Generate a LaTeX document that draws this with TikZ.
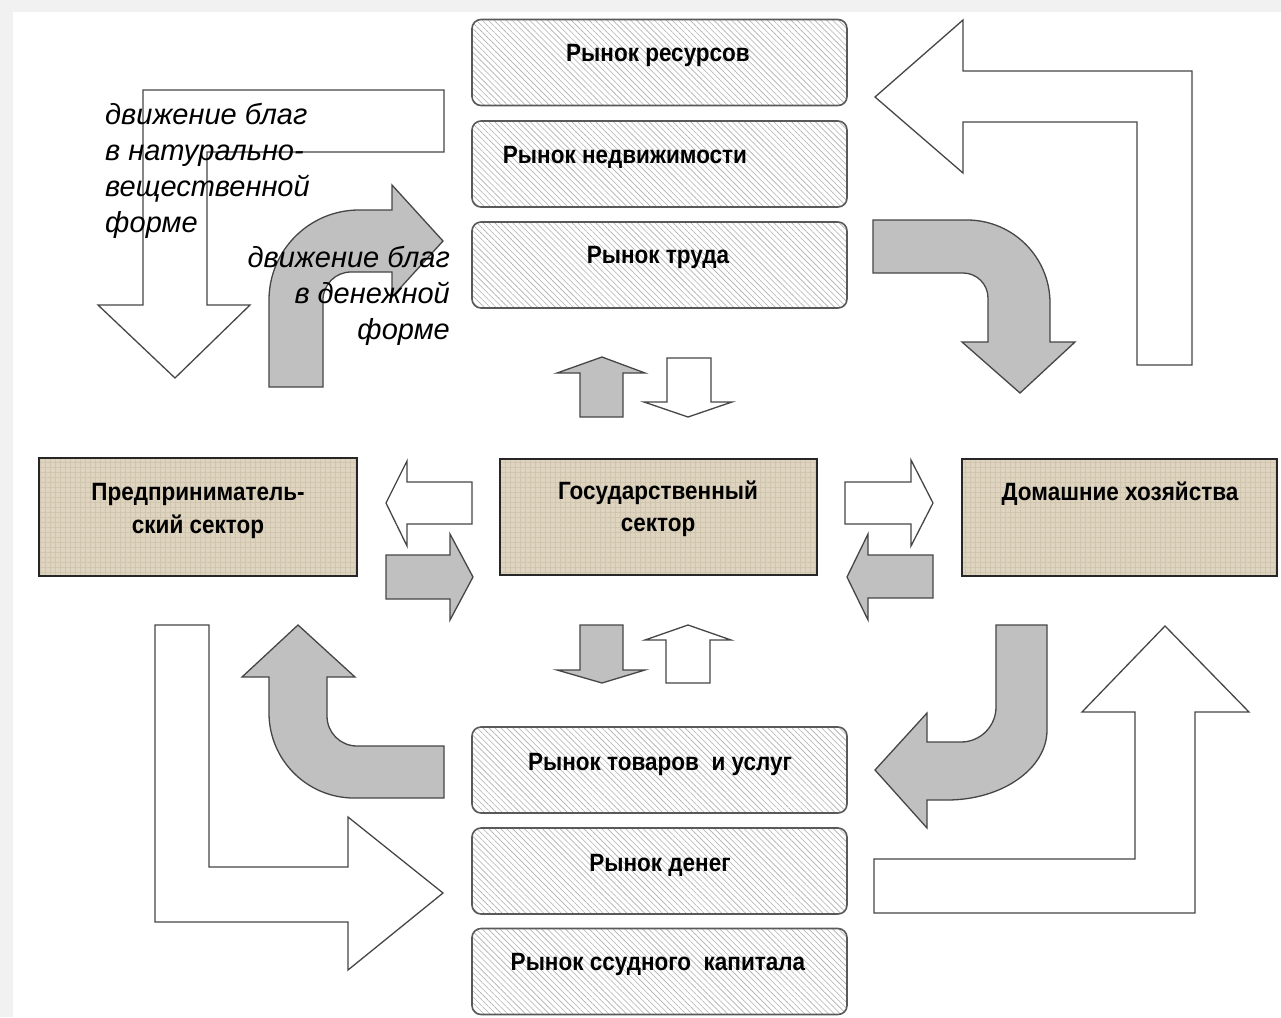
\documentclass[tikz,border=0pt]{standalone}
\usepackage{fontspec}
\setmainfont{Liberation Sans}
\newfontfamily\boxfont{Liberation Sans}[FakeStretch=0.9]
\usetikzlibrary{patterns.meta}
\definecolor{grayfill}{RGB}{192,192,192}
\definecolor{tanfill}{RGB}{222,212,191}
\definecolor{tangrid}{RGB}{208,197,175}
\definecolor{hatch}{RGB}{175,175,175}
\definecolor{framegray}{RGB}{241,241,241}
\definecolor{edge}{RGB}{70,70,70}
\begin{document}
\begin{tikzpicture}[x=1pt,y=-1pt,
  arr/.style={draw=edge, line width=1.3pt, line join=miter},
  wfill/.style={arr, fill=white},
  gfill/.style={arr, fill=grayfill},
  mkt/.style={draw=black!65, line width=1.6pt, rounded corners=9pt,
    preaction={fill=white},
    preaction={pattern={Lines[angle=-45, distance=4.2pt, line width=0.6pt]}, pattern color=hatch},
    minimum width=375pt, minimum height=86pt, inner sep=0pt},
  sect/.style={draw=black!85, line width=1.3pt,
    preaction={fill=tanfill},
    preaction={pattern={Hatch[angle=0, distance=5pt, line width=0.5pt]}, pattern color=tangrid},
    inner sep=0pt},
  mtxt/.style={font=\boxfont\bfseries\fontsize{25}{30}\selectfont, anchor=base, inner sep=0pt},
  itxt/.style={font=\itshape\fontsize{29}{36}\selectfont, inner sep=0pt}
]
\useasboundingbox (0,0) rectangle (1281,1017);
\fill[framegray] (0,0) rectangle (1281,1017);
\fill[white] (13,12) rectangle (1281,1017);

% ---------- market boxes ----------
\node[mkt] (m1) at (659.5,62.5) {};
\node[mkt] (m2) at (659.5,164) {};
\node[mkt] (m3) at (659.5,265) {};
\node[mkt] (m4) at (659.5,770) {};
\node[mkt] (m5) at (659.5,871) {};
\node[mkt] (m6) at (659.5,971.5) {};
\node[mtxt] (m1t) at (658,61) {Рынок ресурсов};
\node[mtxt] (m2t) at (625,163) {Рынок недвижимости};
\node[mtxt] (m3t) at (658,263) {Рынок труда};
\node[mtxt] (m4t) at (660,770) {Рынок товаров \ и услуг};
\node[mtxt] (m5t) at (660,871) {Рынок денег};
\node[mtxt] (m6t) at (658,970) {Рынок ссудного \ капитала};

% ---------- sector boxes ----------
\node[sect, minimum width=318pt, minimum height=118pt] (firms) at (198,517) {};
\node[sect, minimum width=317pt, minimum height=116pt] (state) at (658.5,517) {};
\node[sect, minimum width=315pt, minimum height=117pt] (house) at (1119.5,517.5) {};
\node[mtxt] (firmsA) at (198,500) {Предприниматель-};
\node[mtxt] (firmsB) at (198,533) {ский сектор};
\node[mtxt] (stateA) at (658,499) {Государственный};
\node[mtxt] (stateB) at (658,531) {сектор};
\node[mtxt] (houseA) at (1120,500) {Домашние хозяйства};

% ---------- large white L arrows ----------
\draw[wfill] (444,90) -- (444,152) -- (207,152) -- (207,305) -- (250,305) -- (175,378)
  -- (98,305) -- (143,305) -- (143,90) -- cycle;
\draw[wfill] (875,97) -- (963,20) -- (963,71) -- (1192,71) -- (1192,365) -- (1137,365)
  -- (1137,122) -- (963,122) -- (963,173) -- cycle;
\draw[wfill] (155,625) -- (209,625) -- (209,867) -- (348,867) -- (348,817) -- (443,893)
  -- (348,970) -- (348,922) -- (155,922) -- cycle;
\draw[wfill] (874,859) -- (1135,859) -- (1135,712) -- (1082,712) -- (1165,626) -- (1249,712)
  -- (1195,712) -- (1195,913) -- (874,913) -- cycle;

% ---------- curved gray arrows ----------
\draw[gfill] (269,387) -- (269,300) .. controls (269,250.3) and (309.3,210) .. (359,210)
  -- (392,210) -- (392,185) -- (443,241) -- (392,297) -- (392,272) -- (351,272)
  .. controls (335.5,272) and (323,284.5) .. (323,300) -- (323,387) -- cycle;
\draw[gfill] (873,220) -- (967,220) .. controls (1012.8,220) and (1050,257.2) .. (1050,303)
  -- (1050,342) -- (1075,342) -- (1020,393) -- (962,342) -- (988,342) -- (988,298)
  .. controls (988,284.2) and (976.8,273) .. (963,273) -- (873,273) -- cycle;
\draw[gfill] (298,625) -- (355,677) -- (327,677) -- (327,716)
  .. controls (327,732.6) and (340.4,746) .. (357,746) -- (444,746) -- (444,798) -- (354,798)
  .. controls (307.1,798) and (269,759.9) .. (269,713) -- (269,677) -- (242,677) -- cycle;
\draw[gfill] (996,625) -- (1047,625) -- (1047,730)
  .. controls (1047,768.6) and (1002.2,800) .. (947,800) -- (927,800) -- (927,828)
  -- (875,770) -- (927,713) -- (927,742) -- (961,742)
  .. controls (980.3,742) and (996,726.3) .. (996,707) -- cycle;

% ---------- small arrows (vertical) ----------
\draw[gfill] (580,417) -- (580,373) -- (557,373) -- (602,357) -- (645,373) -- (623,373) -- (623,417) -- cycle;
\draw[wfill] (667,358) -- (711,358) -- (711,402) -- (732,402) -- (688,417) -- (644,402) -- (667,402) -- cycle;
\draw[gfill] (580,625) -- (623,625) -- (623,670) -- (645,670) -- (602,683) -- (557,670) -- (580,670) -- cycle;
\draw[wfill] (666,683) -- (666,640) -- (645,640) -- (688,625) -- (731,640) -- (710,640) -- (710,683) -- cycle;

% ---------- small arrows (horizontal) ----------
\draw[wfill] (472,482) -- (472,524) -- (407,524) -- (407,546) -- (386,503) -- (407,461) -- (407,482) -- cycle;
\draw[gfill] (386,555) -- (450,555) -- (450,534) -- (473,577) -- (450,620) -- (450,599) -- (386,599) -- cycle;
\draw[wfill] (845,482) -- (911,482) -- (911,460) -- (933,503) -- (911,546) -- (911,524) -- (845,524) -- cycle;
\draw[gfill] (933,555) -- (933,598) -- (868,598) -- (868,620) -- (847,577) -- (868,534) -- (868,555) -- cycle;

% ---------- italic labels ----------
\node[itxt, anchor=base west] (la) at (105,124) {движение благ};
\node[itxt, anchor=base west] (lb) at (105,160) {в натурально-};
\node[itxt, anchor=base west] (lc) at (105,196) {вещественной};
\node[itxt, anchor=base west] (ld) at (105,232) {форме};
\node[itxt, anchor=base east] (ra) at (450,267) {движение благ};
\node[itxt, anchor=base east] (rb) at (450,303) {в денежной};
\node[itxt, anchor=base east] (rc) at (450,339) {форме};
\end{tikzpicture}
\end{document}
